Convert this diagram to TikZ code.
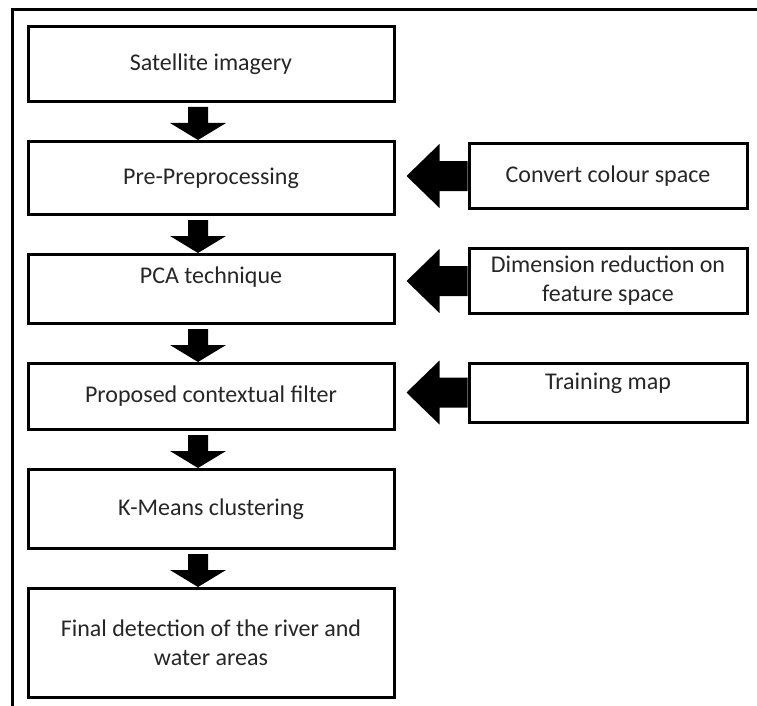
\documentclass[tikz,border=0pt]{standalone}
\usepackage{fontspec}
\setmainfont{Carlito}
\usetikzlibrary{positioning, calc}

% fat block arrows between boxes
\newcommand{\fatdown}[2]{%
  \fill ($(#1.south)+(-23,-4)$) -- ($(#1.south)+(-3,-4)$)
    -- ($(#2.north)+(-3,17)$) -- ($(#2.north)+(15,17)$)
    -- ($(#2.north)+(-13,0)$)
    -- ($(#2.north)+(-41,17)$) -- ($(#2.north)+(-23,17)$) -- cycle;}
\newcommand{\fatleft}[2]{%
  \fill ($(#1.west)+(0,15)$) -- ($(#1.west)+(-28,15)$) -- ($(#1.west)+(-28,32)$)
    -- ($(#2.east |- #1.west)+(11,0)$)
    -- ($(#1.west)+(-28,-32)$) -- ($(#1.west)+(-28,-15)$) -- ($(#1.west)+(0,-15)$) -- cycle;}

\begin{document}
\begin{tikzpicture}[
    x=1pt, y=1pt,
    node distance=37pt,
    font=\fontsize{24}{29}\selectfont,
    box/.style={rectangle, draw, line width=3pt, minimum width=366pt, text=black!85, align=center},
    sidebox/.style={rectangle, draw, line width=3pt, minimum width=278pt, text=black!85, align=center},
    frame/.style={line width=3pt}]
    \useasboundingbox (0,0) rectangle (757,-706);
    \draw[frame] (12,-706) |- (757,-10);

    % Main column
    \node[box, minimum height=75pt] (sat) at (211,-64) {Satellite imagery};
    \node[box, minimum height=73pt, below=of sat] (prep) {Pre-Preprocessing};
    \node[box, minimum height=69pt, below=of prep, text depth=27pt] (pca) {PCA technique};
    \node[box, minimum height=66pt, below=of pca] (filter) {Proposed contextual filter};
    \node[box, minimum height=79pt, below=of filter] (kmeans) {K-Means clustering};
    \node[box, minimum height=109pt, below=of kmeans] (final) {Final detection of the river and\\water areas};

    % Side inputs
    \node[sidebox, minimum height=65pt, right=72pt of prep, yshift=2pt] (colour) {Convert colour space};
    \node[sidebox, minimum height=65pt, right=72pt of pca, yshift=8pt] (dimred) {Dimension reduction on\\feature space};
    \node[sidebox, minimum height=59pt, right=72pt of filter, yshift=4pt, text depth=23pt] (training) {Training map};

    % Arrows
    \fatdown{sat}{prep}
    \fatdown{prep}{pca}
    \fatdown{pca}{filter}
    \fatdown{filter}{kmeans}
    \fatdown{kmeans}{final}
    \fatleft{colour}{prep}
    \fatleft{dimred}{pca}
    \fatleft{training}{filter}

\end{tikzpicture}
\end{document}
